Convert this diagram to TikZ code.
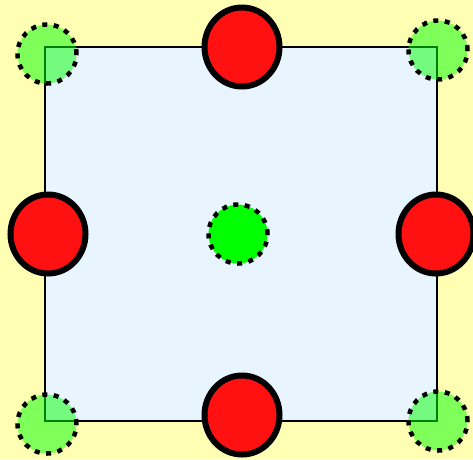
\documentclass[tikz,border=0pt]{standalone}
\usetikzlibrary{shapes.geometric}
\definecolor{bgyellow}{RGB}{255,255,180}
\definecolor{sqblue}{RGB}{232,245,255}
\definecolor{redfill}{RGB}{255,17,17}
\definecolor{greenfill}{RGB}{0,255,0}
\tikzset{
  redball/.style={ellipse, draw=black, line width=6pt, fill=redfill, minimum width=75pt, minimum height=79pt, inner sep=0pt},
  cornerball/.style={circle, draw=black, line width=4.5pt, dash pattern=on 5pt off 6.5pt, fill=greenfill, fill opacity=0.5, draw opacity=1, minimum size=59pt, inner sep=0pt},
  centerball/.style={circle, draw=black, line width=4.5pt, dash pattern=on 5pt off 6.5pt, fill=greenfill, minimum size=59pt, inner sep=0pt},
  sq/.style={draw=black, line width=2pt, fill=sqblue}
}
\begin{document}
\begin{tikzpicture}[x=1pt,y=-1pt]
\fill[bgyellow] (0,0) rectangle (473,459);
\useasboundingbox (0,0) rectangle (473,459);
\node[sq, rectangle, minimum width=392pt, minimum height=374pt, inner sep=0pt] (square) at (241,234) {};
\node[redball] (top) at (242,47) {};
\node[redball] (left) at (48,234) {};
\node[redball] (right) at (436,234) {};
\node[redball] (bottom) at (242,415) {};
\node[cornerball] (tl) at (47,54) {};
\node[cornerball] (tr) at (438,50) {};
\node[cornerball] (bl) at (47,424) {};
\node[cornerball] (br) at (438,421) {};
\node[centerball] (center) at (238,234) {};
\end{tikzpicture}
\end{document}
